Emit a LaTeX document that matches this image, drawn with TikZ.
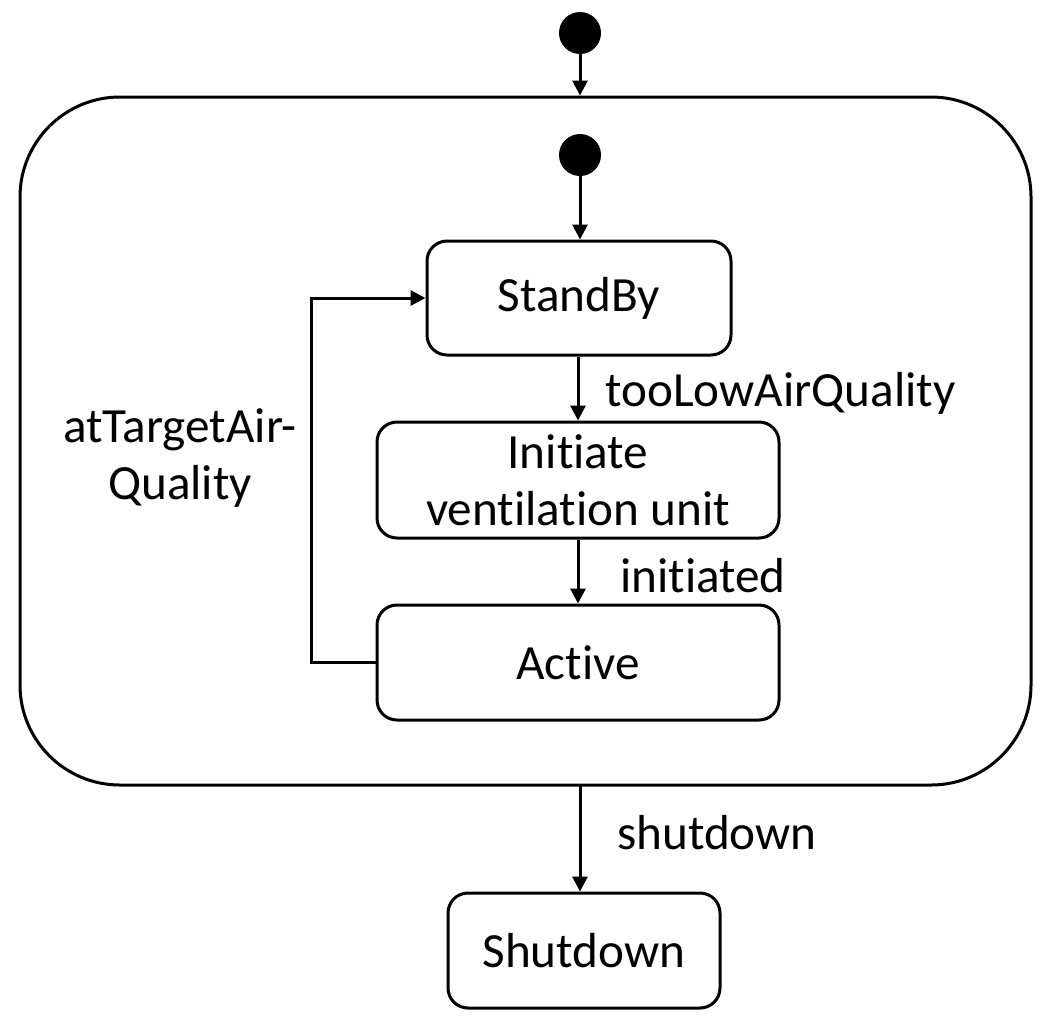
\documentclass[tikz,border=0pt]{standalone}
\usepackage{fontspec}
\setmainfont[RawFeature={-liga;-clig;-calt;-dlig;-rlig}]{Carlito}
\usetikzlibrary{arrows.meta}
\begin{document}
\begin{tikzpicture}[x=0.5pt,y=-0.5pt,
  every node/.style={font=\fontsize{24.6}{28.5}\selectfont},
  state/.style={draw,line width=1.5pt,rounded corners=10pt,inner sep=0pt,align=center},
  initdot/.style={circle,fill=black,minimum size=21pt,inner sep=0pt},
  trans/.style={line width=1.5pt,-{Triangle[length=7.5pt,width=7.5pt]}},
  lbl/.style={inner sep=0pt,align=center}]
\useasboundingbox (0,0) rectangle (1047,1024);
\node[initdot] (i0) at (580,33) {};
\node[state,rounded corners=50pt,minimum width=505.5pt,minimum height=344pt] (outer) at (525.5,441) {};
\node[initdot] (i1) at (580,155) {};
\node[state,minimum width=152pt,minimum height=57pt] (standby) at (579,298) {StandBy};
\node[state,minimum width=201pt,minimum height=58pt] (init) at (578,480) {Initiate\\ventilation unit};
\node[state,minimum width=201pt,minimum height=57.5pt] (active) at (578,662.5) {Active};
\node[state,minimum width=136pt,minimum height=57.5pt] (shut) at (584,950.5) {Shutdown};
\coordinate (c1) at (311,662.5);
\coordinate (c2) at (311,298);
\coordinate (o1) at (580,785);
\draw[trans] (i0) -- (i0 |- outer.north);
\draw[trans] (i1) -- (i1 |- standby.north);
\draw[trans] (standby.south -| 578,0) -- (init.north);
\draw[trans] (init.south) -- (active.north);
\draw[trans] (o1) -- (o1 |- shut.north);
\draw[trans] (active.west) -- (c1) -- (c2) -- (standby.west);
\node[lbl,anchor=west] (l1) at (605,393) {tooLowAirQuality};
\node[lbl] (l2) at (703,576) {initiated};
\node[lbl] (l3) at (717,833) {shutdown};
\node[lbl] (l4) at (180,458) {atTargetAir-\\Quality};
\end{tikzpicture}
\end{document}
